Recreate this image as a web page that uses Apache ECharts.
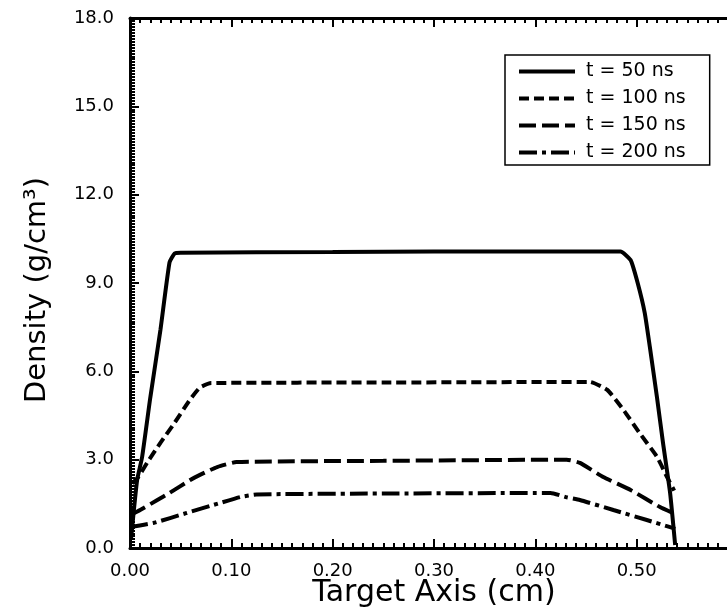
<!DOCTYPE html>
<html>
<head>
<meta charset="utf-8">
<title>Density profiles</title>
<script src="https://cdn.jsdelivr.net/npm/echarts@6/dist/echarts.min.js"></script>
<style>
  html, body { margin: 0; padding: 0; background: #fff; }
  #main { width: 727px; height: 613px; }
</style>
</head>
<body>
<div id="main"></div>
<script>
// data (x in cm, density in g/cm3)
var names = ['t = 50 ns', 't = 100 ns', 't = 150 ns', 't = 200 ns'];

var x50 = [0.001, 0.007, 0.012, 0.020, 0.030, 0.039, 0.044, 0.050, 0.20, 0.30, 0.484, 0.494, 0.501, 0.508, 0.513, 0.520, 0.526, 0.533, 0.538];
var y50 = [0.3, 2.3, 3.1, 5.1, 7.4, 9.7, 10.0, 10.03, 10.05, 10.07, 10.07, 9.78, 9.0, 7.98, 6.83, 5.13, 3.57, 1.87, 0.1];

var x100 = [0.002, 0.008, 0.017, 0.030, 0.044, 0.059, 0.069, 0.080, 0.25, 0.454, 0.471, 0.487, 0.503, 0.520, 0.530, 0.537];
var y100 = [2.2, 2.4, 2.9, 3.57, 4.25, 5.03, 5.45, 5.6, 5.62, 5.64, 5.37, 4.69, 3.9, 3.1, 2.41, 1.95];

var x150 = [0.0, 0.01, 0.027, 0.039, 0.059, 0.070, 0.086, 0.105, 0.25, 0.431, 0.444, 0.467, 0.494, 0.523, 0.535];
var y150 = [1.12, 1.29, 1.63, 1.87, 2.3, 2.5, 2.75, 2.92, 2.96, 3.0, 2.89, 2.41, 1.97, 1.39, 1.2];

var x200 = [0.0, 0.023, 0.056, 0.089, 0.109, 0.125, 0.25, 0.415, 0.431, 0.444, 0.477, 0.51, 0.533, 0.538];
var y200 = [0.71, 0.85, 1.19, 1.53, 1.73, 1.82, 1.85, 1.87, 1.72, 1.63, 1.29, 0.95, 0.71, 0.65];

var dashes = ['solid', [10, 5], [17, 6], [18, 5, 4, 5]];

function pairs(xs, ys) {
  var out = [];
  for (var i = 0; i < xs.length; i++) out.push([xs[i], ys[i]]);
  return out;
}

var font = 'DejaVu Sans, Liberation Sans, sans-serif';
var chart = echarts.init(document.getElementById('main'));

var tickStyle = { color: '#000', width: 2 };
function xAx(pos, labels) {
  return {
    type: 'value', position: pos, min: 0, max: 0.6, interval: 0.1,
    axisLine: { show: true, onZero: false, lineStyle: { color: '#000', width: 3 } },
    axisTick: { show: true, inside: true, length: 9, lineStyle: tickStyle },
    minorTick: { show: true, splitNumber: 10, length: 5, lineStyle: tickStyle },
    splitLine: { show: false },
    axisLabel: {
      show: labels, color: '#000', fontFamily: font, fontSize: 18, margin: 14,
      showMaxLabel: false,
      formatter: function (v) { return v.toFixed(2); }
    },
    name: labels ? 'Target Axis (cm)' : '', nameLocation: 'middle', nameGap: 30,
    nameMoveOverlap: false,
    nameTextStyle: { color: '#000', fontFamily: font, fontSize: 30 }
  };
}
function yAx(pos, labels) {
  return {
    type: 'value', position: pos, min: 0, max: 18, interval: 3,
    axisLine: { show: true, onZero: false, lineStyle: { color: '#000', width: 3 } },
    axisTick: { show: true, inside: true, length: 9, lineStyle: tickStyle },
    minorTick: { show: true, splitNumber: 30, length: 5, lineStyle: tickStyle },
    splitLine: { show: false },
    axisLabel: {
      show: labels, color: '#000', fontFamily: font, fontSize: 18, margin: 16,
      formatter: function (v) { return v.toFixed(1); }
    },
    name: labels ? 'Density (g/cm³)' : '', nameLocation: 'middle', nameGap: 78, nameRotate: 90,
    nameTextStyle: { color: '#000', fontFamily: font, fontSize: 29, padding: [0, 14, 0, 0] }
  };
}

var data = [pairs(x50, y50), pairs(x100, y100), pairs(x150, y150), pairs(x200, y200)];
var series = names.map(function (n, i) {
  return {
    name: n, type: 'line', data: data[i], showSymbol: false, symbol: 'none',
    smooth: 0.15, xAxisIndex: 0, yAxisIndex: 0,
    itemStyle: { color: '#000' },
    lineStyle: { color: '#000', width: 4, type: dashes[i] }
  };
});

chart.setOption({
  animation: false,
  backgroundColor: '#fff',
  grid: { left: 130, top: 18, bottom: 65, right: -11, containLabel: false, outerBoundsMode: 'none' },
  xAxis: [xAx('bottom', true), xAx('top', false)],
  yAxis: [yAx('left', true), yAx('right', false)],
  legend: {
    data: names, orient: 'vertical', left: 505, top: 55,
    width: 204, itemWidth: 56, itemHeight: 20, itemGap: 8,
    padding: [7, 24, 3, 12],
    borderColor: '#000', borderWidth: 1.5, backgroundColor: '#fff',
    itemStyle: { opacity: 0 },
    lineStyle: { width: 4 },
    textStyle: { color: '#000', fontFamily: font, fontSize: 19, padding: [0, 0, 0, 6] }
  },
  series: series
});
</script>
</body>
</html>
